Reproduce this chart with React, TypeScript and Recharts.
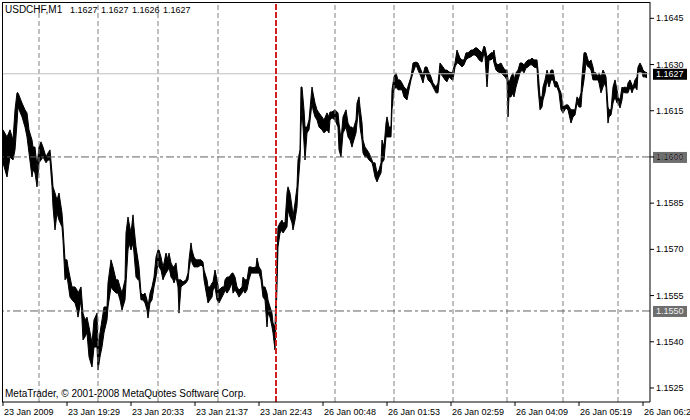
import { ComposedChart, Area, XAxis, YAxis, ReferenceLine } from 'recharts';

// M1 bars, one pixel per bar; bar index, high and low
const bars = [
  3, 7, 10, 13, 15, 17, 18, 22, 25, 27, 29, 32, 33, 35, 37, 39, 41, 43, 46, 48,
  50, 52, 53, 55, 57, 59, 62, 63, 65, 67, 68, 70, 72, 75, 77, 78, 81, 83, 85, 87,
  89, 92, 94, 97, 98, 100, 102, 104, 107, 108, 111, 113, 116, 118, 120, 122, 125, 126, 128, 129,
  131, 133, 134, 136, 138, 139, 141, 143, 145, 147, 148, 150, 152, 154, 156, 158, 159, 161, 163, 164,
  166, 168, 169, 171, 173, 174, 176, 178, 179, 181, 183, 186, 188, 189, 191, 192, 194, 196, 198, 201,
  203, 204, 207, 208, 210, 212, 213, 215, 217, 219, 222, 224, 225, 227, 229, 232, 233, 235, 237, 239,
  242, 243, 245, 247, 249, 251, 253, 256, 257, 259, 261, 263, 265, 267, 268, 270, 272, 273, 275, 277,
  278, 280, 282, 283, 285, 287, 288, 290, 292, 293, 295, 297, 298, 300, 301, 302, 304, 305, 307, 309,
  312, 313, 315, 317, 319, 322, 324, 327, 329, 330, 332, 335, 338, 339, 341, 343, 346, 348, 350, 352,
  353, 356, 357, 359, 360, 362, 363, 365, 367, 369, 372, 373, 375, 377, 379, 381, 382, 384, 386, 387,
  389, 391, 392, 394, 396, 398, 400, 402, 404, 407, 409, 411, 413, 416, 418, 421, 423, 425, 427, 428,
  431, 433, 436, 438, 440, 443, 445, 447, 449, 452, 453, 455, 457, 458, 460, 462, 464, 466, 468, 471,
  473, 475, 477, 479, 482, 484, 485, 487, 489, 491, 493, 494, 496, 498, 501, 503, 505, 507, 508, 509,
  511, 513, 514, 516, 518, 520, 522, 524, 526, 528, 530, 532, 534, 537, 538, 540, 542, 543, 545, 547,
  549, 551, 553, 555, 557, 559, 561, 563, 566, 568, 571, 573, 575, 577, 579, 581, 582, 584, 586, 588,
  589, 591, 593, 594, 596, 598, 599, 601, 603, 604, 606, 608, 609, 611, 613, 615, 617, 618, 620, 622,
  623, 625, 627, 628, 630, 632, 633, 635, 637, 638, 640, 642, 643, 645, 647,
];

const highs = [
  1.16088, 1.16065, 1.16088, 1.16055, 1.16153, 1.16208, 1.16208, 1.16175, 1.16153, 1.16143, 1.16088, 1.16055, 1.16032, 1.16032, 1.15968, 1.16032, 1.16049, 1.16032, 1.16000, 1.16013,
  1.16023, 1.15948, 1.15903, 1.15883, 1.15860, 1.15883, 1.15818, 1.15773, 1.15666, 1.15666, 1.15643, 1.15610, 1.15578, 1.15578, 1.15568, 1.15558, 1.15578, 1.15493, 1.15471, 1.15480,
  1.15448, 1.15396, 1.15471, 1.15493, 1.15383, 1.15429, 1.15471, 1.15513, 1.15513, 1.15591, 1.15666, 1.15643, 1.15601, 1.15601, 1.15578, 1.15558, 1.15601, 1.15753, 1.15805, 1.15786,
  1.15753, 1.15812, 1.15773, 1.15708, 1.15666, 1.15643, 1.15558, 1.15552, 1.15558, 1.15536, 1.15513, 1.15558, 1.15578, 1.15610, 1.15675, 1.15698, 1.15698, 1.15675, 1.15643, 1.15656,
  1.15688, 1.15666, 1.15688, 1.15656, 1.15643, 1.15643, 1.15656, 1.15601, 1.15601, 1.15601, 1.15594, 1.15601, 1.15623, 1.15666, 1.15721, 1.15698, 1.15675, 1.15666, 1.15666, 1.15666,
  1.15659, 1.15633, 1.15601, 1.15578, 1.15578, 1.15591, 1.15594, 1.15633, 1.15601, 1.15568, 1.15578, 1.15578, 1.15601, 1.15610, 1.15610, 1.15623, 1.15623, 1.15610, 1.15578, 1.15568,
  1.15578, 1.15610, 1.15601, 1.15601, 1.15643, 1.15643, 1.15640, 1.15643, 1.15672, 1.15643, 1.15633, 1.15578, 1.15578, 1.15558, 1.15536, 1.15513, 1.15493, 1.15461, 1.15448, 1.15666,
  1.15773, 1.15786, 1.15795, 1.15786, 1.15786, 1.15883, 1.15903, 1.15883, 1.15838, 1.15805, 1.15851, 1.15903, 1.15990, 1.16023, 1.16227, 1.16227, 1.16153, 1.16097, 1.16097, 1.16120,
  1.16227, 1.16208, 1.16175, 1.16153, 1.16143, 1.16130, 1.16120, 1.16143, 1.16130, 1.16146, 1.16146, 1.16153, 1.16143, 1.16110, 1.16055, 1.16130, 1.16153, 1.16110, 1.16097, 1.16097,
  1.16088, 1.16120, 1.16175, 1.16195, 1.16162, 1.16110, 1.16055, 1.16032, 1.16023, 1.16013, 1.15990, 1.15981, 1.15981, 1.15948, 1.15958, 1.15981, 1.16055, 1.16032, 1.16110, 1.16130,
  1.16097, 1.16097, 1.16218, 1.16260, 1.16273, 1.16250, 1.16250, 1.16240, 1.16227, 1.16218, 1.16240, 1.16260, 1.16305, 1.16308, 1.16305, 1.16282, 1.16266, 1.16292, 1.16292, 1.16282,
  1.16260, 1.16240, 1.16227, 1.16240, 1.16305, 1.16292, 1.16282, 1.16282, 1.16276, 1.16273, 1.16282, 1.16305, 1.16347, 1.16338, 1.16321, 1.16315, 1.16315, 1.16338, 1.16338, 1.16347,
  1.16347, 1.16354, 1.16354, 1.16347, 1.16338, 1.16360, 1.16357, 1.16325, 1.16331, 1.16338, 1.16338, 1.16347, 1.16305, 1.16299, 1.16305, 1.16292, 1.16282, 1.16282, 1.16250, 1.16240,
  1.16260, 1.16273, 1.16250, 1.16273, 1.16282, 1.16305, 1.16305, 1.16299, 1.16308, 1.16315, 1.16315, 1.16321, 1.16315, 1.16315, 1.16282, 1.16195, 1.16195, 1.16227, 1.16250, 1.16282,
  1.16260, 1.16282, 1.16282, 1.16244, 1.16244, 1.16224, 1.16208, 1.16162, 1.16169, 1.16169, 1.16153, 1.16153, 1.16153, 1.16195, 1.16185, 1.16208, 1.16260, 1.16338, 1.16338, 1.16315,
  1.16308, 1.16315, 1.16292, 1.16273, 1.16273, 1.16260, 1.16273, 1.16260, 1.16282, 1.16276, 1.16260, 1.16162, 1.16153, 1.16153, 1.16227, 1.16250, 1.16218, 1.16195, 1.16185, 1.16227,
  1.16224, 1.16227, 1.16224, 1.16240, 1.16250, 1.16234, 1.16227, 1.16250, 1.16260, 1.16292, 1.16305, 1.16292, 1.16282, 1.16276, 1.16273,
];

const lows = [
  1.15981, 1.15935, 1.16000, 1.15990, 1.16023, 1.16110, 1.16162, 1.16130, 1.16097, 1.16065, 1.16013, 1.15935, 1.15958, 1.15948, 1.15903, 1.15981, 1.15990, 1.16000, 1.15981, 1.15990,
  1.15990, 1.15903, 1.15838, 1.15763, 1.15818, 1.15795, 1.15773, 1.15730, 1.15601, 1.15610, 1.15591, 1.15545, 1.15536, 1.15526, 1.15503, 1.15480, 1.15536, 1.15406, 1.15416, 1.15429,
  1.15351, 1.15318, 1.15383, 1.15383, 1.15308, 1.15351, 1.15383, 1.15429, 1.15471, 1.15513, 1.15578, 1.15568, 1.15558, 1.15558, 1.15536, 1.15503, 1.15536, 1.15591, 1.15698, 1.15721,
  1.15698, 1.15721, 1.15688, 1.15610, 1.15601, 1.15601, 1.15536, 1.15536, 1.15526, 1.15503, 1.15477, 1.15526, 1.15536, 1.15578, 1.15610, 1.15656, 1.15643, 1.15633, 1.15601, 1.15610,
  1.15623, 1.15633, 1.15643, 1.15610, 1.15601, 1.15591, 1.15610, 1.15578, 1.15493, 1.15578, 1.15584, 1.15591, 1.15601, 1.15633, 1.15675, 1.15656, 1.15643, 1.15643, 1.15643, 1.15649,
  1.15643, 1.15601, 1.15545, 1.15526, 1.15536, 1.15545, 1.15568, 1.15578, 1.15536, 1.15526, 1.15545, 1.15558, 1.15568, 1.15558, 1.15568, 1.15591, 1.15558, 1.15568, 1.15558, 1.15545,
  1.15558, 1.15568, 1.15558, 1.15568, 1.15601, 1.15623, 1.15623, 1.15623, 1.15623, 1.15623, 1.15601, 1.15545, 1.15536, 1.15448, 1.15493, 1.15480, 1.15448, 1.15429, 1.15373, 1.15578,
  1.15708, 1.15753, 1.15763, 1.15753, 1.15763, 1.15773, 1.15828, 1.15805, 1.15786, 1.15763, 1.15795, 1.15838, 1.15903, 1.15990, 1.16097, 1.16153, 1.16045, 1.15990, 1.16078, 1.16088,
  1.16175, 1.16153, 1.16130, 1.16120, 1.16097, 1.16088, 1.16078, 1.16088, 1.16078, 1.16120, 1.16127, 1.16120, 1.16097, 1.16023, 1.16000, 1.16078, 1.16097, 1.16065, 1.16055, 1.16032,
  1.16045, 1.16078, 1.16110, 1.16162, 1.16097, 1.16055, 1.16013, 1.16000, 1.16000, 1.15990, 1.15981, 1.15968, 1.15935, 1.15919, 1.15935, 1.15948, 1.15981, 1.15990, 1.16065, 1.16065,
  1.16065, 1.16065, 1.16153, 1.16218, 1.16227, 1.16218, 1.16218, 1.16218, 1.16195, 1.16185, 1.16218, 1.16250, 1.16273, 1.16299, 1.16282, 1.16260, 1.16240, 1.16273, 1.16260, 1.16250,
  1.16240, 1.16227, 1.16208, 1.16208, 1.16273, 1.16260, 1.16250, 1.16244, 1.16260, 1.16250, 1.16250, 1.16292, 1.16305, 1.16305, 1.16299, 1.16292, 1.16299, 1.16315, 1.16321, 1.16325,
  1.16331, 1.16331, 1.16325, 1.16315, 1.16308, 1.16338, 1.16325, 1.16227, 1.16315, 1.16315, 1.16321, 1.16305, 1.16282, 1.16276, 1.16273, 1.16266, 1.16260, 1.16250, 1.16130, 1.16195,
  1.16195, 1.16208, 1.16195, 1.16227, 1.16250, 1.16273, 1.16282, 1.16273, 1.16289, 1.16292, 1.16299, 1.16299, 1.16292, 1.16289, 1.16227, 1.16153, 1.16162, 1.16185, 1.16208, 1.16250,
  1.16227, 1.16250, 1.16250, 1.16227, 1.16227, 1.16208, 1.16153, 1.16143, 1.16159, 1.16153, 1.16110, 1.16130, 1.16136, 1.16175, 1.16162, 1.16162, 1.16208, 1.16250, 1.16305, 1.16292,
  1.16292, 1.16282, 1.16250, 1.16250, 1.16250, 1.16250, 1.16240, 1.16208, 1.16227, 1.16240, 1.16227, 1.16110, 1.16130, 1.16136, 1.16175, 1.16195, 1.16175, 1.16175, 1.16159, 1.16185,
  1.16211, 1.16208, 1.16208, 1.16208, 1.16227, 1.16208, 1.16218, 1.16227, 1.16218, 1.16276, 1.16276, 1.16276, 1.16260, 1.16260, 1.16257,
];

const timeTicks = [3, 67, 131, 195, 259, 323, 387, 451, 515, 579, 643];
const timeLabels = [
  '23 Jan 2009', '23 Jan 19:29', '23 Jan 20:33', '23 Jan 21:37', '23 Jan 22:43',
  '26 Jan 00:48', '26 Jan 01:53', '26 Jan 02:59', '26 Jan 04:09', '26 Jan 05:19', '26 Jan 06:25',
];
const priceTicks = [1.1525, 1.154, 1.1555, 1.157, 1.1585, 1.16, 1.1615, 1.163, 1.1645];
const hourGrid = [39, 98, 158, 218, 335, 394, 453, 507, 563, 618];
const weekendBar = 276;
const levels = [1.16, 1.155];
const lastBid = 1.1627;

const data = bars.map((bar, i) => ({ bar, range: [lows[i], highs[i]] }));

const font = '"Liberation Sans", Arial, sans-serif';

function TimeTick({ x, y, payload }: any) {
  const label = timeLabels[timeTicks.indexOf(payload.value)];
  return (
    <text x={x + 1} y={y + 7} fontSize={9} fontFamily={font} fill="#000" textAnchor="start">
      {label}
    </text>
  );
}

function PriceTick({ x, y, payload }: any) {
  return (
    <text x={x} y={y + 3} fontSize={9} fontFamily={font} fill="#000" textAnchor="start">
      {payload.value.toFixed(4)}
    </text>
  );
}

function tag(text: string, bg: string, fg: string) {
  return (props: any) => {
    const vb = props.viewBox;
    const x = vb.x + vb.width + 3;
    return (
      <g>
        <rect x={x} y={vb.y - 5} width={34} height={11} fill={bg} />
        <text x={x + 3} y={vb.y + 3.5} fontSize={9} fontFamily={font} fill={fg}>
          {text}
        </text>
      </g>
    );
  };
}

export default function App() {
  return (
    <div style={{ position: 'fixed', left: 0, top: 0, width: 690, height: 420, background: '#fff' }}>
      <ComposedChart width={690} height={420} data={data} margin={{ top: 2, right: 0, bottom: 0, left: 2 }}>
        <XAxis
          dataKey="bar"
          type="number"
          domain={[2, 650]}
          allowDataOverflow
          ticks={timeTicks}
          interval={0}
          tick={<TimeTick />}
          tickSize={4}
          tickMargin={2}
          height={18}
          axisLine={{ stroke: '#000' }}
          tickLine={{ stroke: '#000' }}
        />
        <YAxis
          orientation="right"
          type="number"
          domain={[1.152045, 1.16503]}
          allowDataOverflow
          ticks={priceTicks}
          interval={0}
          tick={<PriceTick />}
          tickSize={4}
          tickMargin={2}
          width={40}
          axisLine={{ stroke: '#000' }}
          tickLine={{ stroke: '#000' }}
        />
        {hourGrid.map((b) => (
          <ReferenceLine key={b} x={b} stroke="#808080" strokeDasharray="5 3" />
        ))}
        <ReferenceLine y={lastBid} stroke="#c0c0c0" label={tag('1.1627', '#000', '#fff')} />
        {levels.map((v) => (
          <ReferenceLine
            key={v}
            y={v}
            stroke="#606060"
            strokeDasharray="8 3 3 3"
            label={tag(v.toFixed(4), '#6e6e6e', '#eeeeee')}
          />
        ))}
        <Area
          dataKey="range"
          type="linear"
          stroke="#000"
          strokeWidth={1}
          fill="#000"
          fillOpacity={1}
          dot={false}
          activeDot={false}
          isAnimationActive={false}
        />
        <ReferenceLine x={weekendBar} stroke="#d02020" strokeWidth={2} strokeDasharray="6 2" />
      </ComposedChart>
      <svg width={690} height={420} style={{ position: 'absolute', left: 0, top: 0, pointerEvents: 'none' }}>
        <line x1={2} y1={2.5} x2={650} y2={2.5} stroke="#000" />
        <line x1={2.5} y1={2} x2={2.5} y2={402} stroke="#000" />
        <text x={5} y={13} fontSize={10} fontFamily={font} fill="#000">USDCHF,M1</text>
        <text x={70} y={13} fontSize={9} fontFamily={font} fill="#000" wordSpacing={1}>
          1.1627 1.1627 1.1626 1.1627
        </text>
        <text x={5} y={397} fontSize={10} fontFamily={font} fill="#000">
          MetaTrader, © 2001-2008 MetaQuotes Software Corp.
        </text>
      </svg>
    </div>
  );
}
